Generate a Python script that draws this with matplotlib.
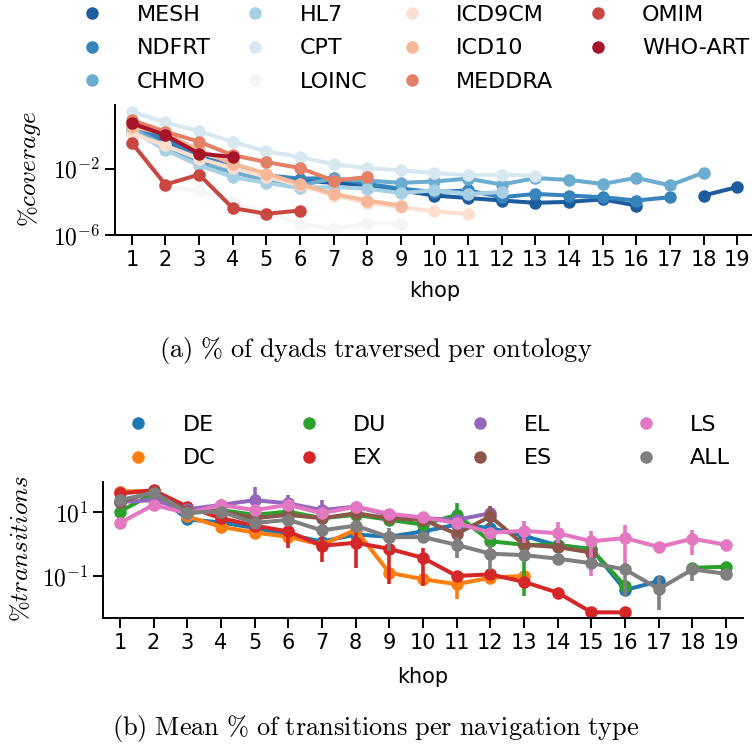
import numpy as np
import matplotlib
matplotlib.use("Agg")
import matplotlib.pyplot as plt
from matplotlib.lines import Line2D
from matplotlib.ticker import NullLocator

plt.rcParams["font.family"] = ["DejaVu Sans"]
plt.rcParams["mathtext.fontset"] = "cm"

nan = np.nan
khop = list(range(1, 20))

# (a) % coverage of dyads per ontology, khop 1..19
ontologies = ["MESH", "NDFRT", "CHMO", "HL7", "CPT", "LOINC",
              "ICD9CM", "ICD10", "MEDDRA", "OMIM", "WHO-ART"]
mesh = [1.8, 0.42, 0.032, 0.013, 0.0025, 0.0019, 0.0014, 0.00098, 0.00049, 0.00024,
        0.00017, 0.00012, 0.000087, 0.0001, 0.00014, 0.00006, nan, 0.00024, 0.00078]
ndfrt = [2.6, 0.66, 0.051, 0.016, 0.004, 0.0025, 0.0027, 0.0012, 0.00062, 0.00039,
         0.00049, 0.00019, 0.0003, 0.00024, 0.00019, 0.00012, 0.00019, nan, nan]
chmo = [2.6, 0.26, 0.02, 0.0063, 0.0019, 0.00098, 0.0025, 0.0019, 0.0014, 0.0017,
        0.0025, 0.0011, 0.0027, 0.0021, 0.0012, 0.0028, 0.00098, 0.0058, nan]
hl7 = [2.1, 0.13, 0.016, 0.0031, 0.0014, 0.00068, 0.00078, 0.00062, 0.00034, 0.00049,
       0.0003, 0.00039, nan, nan, nan, nan, nan, nan, nan]
cpt = [27, 6.2, 1.8, 0.42, 0.11, 0.051, 0.018, 0.011, 0.0079, 0.0055,
       0.004, 0.0044, 0.0036, nan, nan, nan, nan, nan, nan]
loinc = [0.3, 0.00078, 0.00049, 0.0001, 0.000025, 0.0000047, 0.0000023, 0.0000051, 0.0000047,
         nan, nan, nan, nan, nan, nan, nan, nan, nan, nan]
icd9cm = [1.3, 0.25, 0.04, 0.011, 0.0032, 0.001, 0.00024, 0.000087, 0.000048, 0.000027,
          0.000019, nan, nan, nan, nan, nan, nan, nan, nan]
icd10 = [3.4, 1.3, 0.13, 0.02, 0.005, 0.0012, 0.0003, 0.00012, 0.00006,
         nan, nan, nan, nan, nan, nan, nan, nan, nan, nan]
meddra = [8.5, 1.7, 0.42, 0.065, 0.025, 0.011, 0.0019, 0.0031,
          nan, nan, nan, nan, nan, nan, nan, nan, nan, nan, nan]
omim = [0.36, 0.0011, 0.0044, 0.000042, 0.000019, 0.00003,
        nan, nan, nan, nan, nan, nan, nan, nan, nan, nan, nan, nan, nan]
who_art = [5.4, 1.05, 0.081, 0.051,
           nan, nan, nan, nan, nan, nan, nan, nan, nan, nan, nan, nan, nan, nan, nan]
coverage = [mesh, ndfrt, chmo, hl7, cpt, loinc, icd9cm, icd10, meddra, omim, who_art]

# (b) mean % of transitions per navigation type
nav_types = ["DE", "DC", "DU", "EX", "EL", "ES", "LS", "ALL"]
de = [44, 44, 6.0, 4.8, 3.2, 2.0, 1.2, 2.0, 1.7, 2.5, 4.1, 3.2, 1.8, 0.91, 0.71, 0.036, 0.069, nan, nan]
dc = [44, 47, 7.4, 3.5, 2.3, 1.7, 0.95, 2.8, 0.126, 0.079, 0.055, 0.089, 0.1, nan, nan, nan, nan, nan, nan]
du = [10.5, 39, 9.3, 11.7, 8.3, 10.5, 6.5, 8.3, 5.8, 4.1, 8.3, 1.23, 0.95, 0.95, 0.68, 0.049, nan, 0.18, 0.195]
ex = [39, 49, 15, 6.5, 3.8, 2.5, 0.89, 1.1, 0.71, 0.37, 0.1, 0.112, 0.065, 0.03, 0.0072, 0.0072, nan, nan, nan]
el = [21, 24, 12.3, 17, 24, 19, 11.7, 15, 8.3, 6.5, 5.8, 9.3, nan, nan, nan, nan, nan, nan, nan]
es = [21, 44, 11.2, 10.5, 6.5, 8.3, 6.5, 9.3, 6.5, 5.8, 2.1, 7.4, 0.95, 0.81, 0.54, nan, nan, nan, nan]
ls_ = [4.6, 17, 9.3, 17, 11.7, 17, 9.3, 15, 8.9, 6.9, 4.6, 2.3, 2.6, 2.2, 1.23, 1.55, 0.81, 1.48, 0.95]
all_ = [24, 41, 9.8, 10.5, 4.6, 5.8, 2.7, 3.8, 1.66, 1.66, 0.95, 0.5, 0.45, 0.35, 0.25, 0.16, 0.039, 0.16, 0.117]
transitions = [de, dc, du, ex, el, es, ls_, all_]

# visible error bars: khop -> (decades below, decades above)
errs = {
    "DC": {11: (0.47, 0.1)},
    "DU": {11: (0.36, 0.36), 13: (1.6, 0.1)},
    "EX": {6: (0.52, 0.2), 7: (0.5, 0.5), 8: (0.78, 0.52), 9: (1.1, 0.29), 10: (0.88, 0.31)},
    "EL": {5: (0.15, 0.41), 6: (0.2, 0.26), 7: (0.1, 0.31)},
    "ES": {11: (0.22, 0.22), 12: (0.3, 0.33)},
    "LS": {13: (0.38, 0.3), 14: (0.31, 0.36), 15: (1.09, 0.31), 16: (1.0, 0.42), 18: (0.5, 0.28)},
    "ALL": {9: (0.45, 0.28), 11: (0.42, 0.26), 12: (0.5, 0.28), 16: (0.83, 0.2),
            17: (0.67, 0.41), 18: (0.36, 0.1)},
}

onto_colors = plt.get_cmap("RdBu_r")(np.linspace(0, 1, len(ontologies) + 2)[1:-1])
nav_colors = ["#1f77b4", "#ff7f0e", "#2ca02c", "#d62728",
              "#9467bd", "#8c564b", "#e377c2", "#7f7f7f"]

W, H = 752, 749
fig = plt.figure(figsize=(W / 100, H / 100), dpi=100)


def px_axes(left, top, right, bottom):
    return fig.add_axes([left / W, 1 - bottom / H, (right - left) / W, (bottom - top) / H])


def style(ax, ylim, yticks, ylabels):
    ax.set_yscale("log")
    ax.set_ylim(*ylim)
    ax.set_xlim(0.5, 19.5)
    ax.set_xticks(khop)
    ax.set_xticklabels([str(k) for k in khop])
    ax.set_yticks(yticks)
    ax.set_yticklabels(ylabels)
    ax.yaxis.set_minor_locator(NullLocator())
    for s in ["top", "right"]:
        ax.spines[s].set_visible(False)
    for s in ["left", "bottom"]:
        ax.spines[s].set_linewidth(1.4)
    ax.tick_params(length=7, width=1.4, labelsize=15)
    ax.tick_params(axis="y", labelsize=17)


# ---- (a)
ax1 = px_axes(115, 105, 754, 235)
for vals, c in zip(coverage, onto_colors):
    ax1.plot(khop, vals, "-o", color=c, lw=2.9, ms=8, clip_on=False)
style(ax1, (1e-6, 69), [1e-6, 1e-2], [r"$10^{-6}$", r"$10^{-2}$"])
ax1.set_ylabel(r"$\%coverage$", fontsize=18)
ax1.yaxis.set_label_coords(43 / W, 1 - 169 / H, transform=fig.transFigure)
ax1.set_xlabel("khop", fontsize=15)
ax1.xaxis.set_label_coords(435 / W, 1 - 281 / H, transform=fig.transFigure)

h1 = [Line2D([], [], ls="none", marker="o", ms=8, color=c) for c in onto_colors]
fig.legend(h1, ontologies, loc="upper left", bbox_to_anchor=(70 / W, 1 - 5 / H),
           ncol=4, frameon=False, fontsize=16, handlelength=2, handletextpad=1.0,
           columnspacing=1.0, labelspacing=0.6, borderpad=0, borderaxespad=0)

fig.text(376 / W, 1 - 350 / H, r"$\mathrm{(a)\ \%\ of\ dyads\ traversed\ per\ ontology}$",
         ha="center", va="center", fontsize=19)

# ---- (b)
ax2 = px_axes(103, 482, 743, 618)
for name, vals, c in zip(nav_types, transitions, nav_colors):
    for k, (lo, hi) in errs.get(name, {}).items():
        v = vals[k - 1]
        ax2.vlines(k, v * 10 ** -lo, v * 10 ** hi, color=c, lw=2.6)
    ax2.plot(khop, vals, "-o", color=c, lw=2.9, ms=8)
style(ax2, (10 ** -2.32, 10 ** 1.95), [1e-1, 1e1], [r"$10^{-1}$", r"$10^{1}$"])
ax2.set_ylabel(r"$\%transitions$", fontsize=18)
ax2.yaxis.set_label_coords(33 / W, 1 - 549 / H, transform=fig.transFigure)
ax2.set_xlabel("khop", fontsize=15)
ax2.xaxis.set_label_coords(423 / W, 1 - 667 / H, transform=fig.transFigure)

h2 = [Line2D([], [], ls="none", marker="o", ms=8, color=c) for c in nav_colors]
fig.legend(h2, nav_types, loc="upper left", bbox_to_anchor=(116 / W, 1 - 415 / H),
           ncol=4, frameon=False, fontsize=16, handlelength=2, handletextpad=1.0,
           columnspacing=3.2, labelspacing=0.6, borderpad=0, borderaxespad=0)

fig.text(376 / W, 1 - 729 / H,
         r"$\mathrm{(b)\ Mean\ \%\ of\ transitions\ per\ navigation\ type}$",
         ha="center", va="center", fontsize=19)

fig.savefig("out.png", dpi=100)
